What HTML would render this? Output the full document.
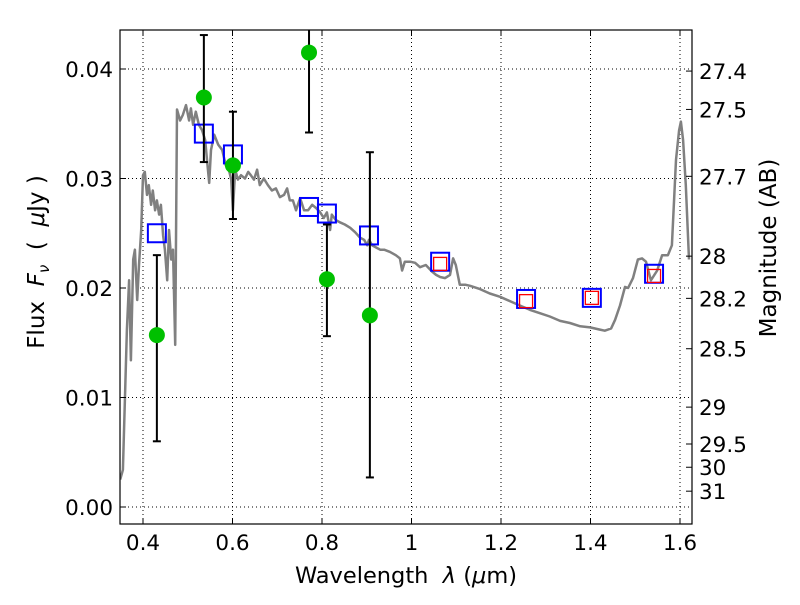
<!DOCTYPE html>
<html><head><meta charset="utf-8"><style>
body{margin:0;background:#fff;}
svg text{font-family:"DejaVu Sans","Liberation Sans",sans-serif;fill:#000;}
</style></head><body>
<svg id="chart" width="800" height="600" xmlns="http://www.w3.org/2000/svg">
<defs><clipPath id="clip"><rect x="120" y="30" width="572" height="494"/></clipPath></defs>
<g id="grid"></g>
<g id="spec" clip-path="url(#clip)"></g>
<g id="marks" clip-path="url(#clip)"></g>
<rect x="120" y="30" width="572" height="494" fill="none" stroke="#000" stroke-width="1.2"/>
<g id="axes"></g>
<text x="406" y="583" font-size="22.5" text-anchor="middle" xml:space="preserve">Wavelength  <tspan font-style="italic">λ</tspan> (<tspan font-style="italic">μ</tspan>m)</text>
<text transform="translate(44,262) rotate(-90)" font-size="23" text-anchor="middle" xml:space="preserve">Flux  <tspan font-style="italic">F</tspan><tspan font-style="italic" font-size="15" dy="5">ν</tspan><tspan dy="-5">  (  </tspan><tspan font-style="italic">μ</tspan>Jy )</text>
<text transform="translate(776,248) rotate(-90)" font-size="23" text-anchor="middle">Magnitude (AB)</text>
</svg>
<script>
const specX=[0.349,0.355,0.364,0.369,0.373,0.378,0.382,0.387,0.391,0.396,0.400,0.404,0.409,0.413,0.418,0.422,0.427,0.431,0.436,0.440,0.445,0.449,0.454,0.458,0.463,0.467,0.472,0.476,0.483,0.489,0.496,0.503,0.507,0.512,0.518,0.525,0.532,0.539,0.543,0.548,0.552,0.559,0.568,0.577,0.585,0.592,0.597,0.601,0.606,0.612,0.619,0.628,0.635,0.641,0.648,0.655,0.661,0.670,0.679,0.688,0.697,0.706,0.715,0.722,0.728,0.735,0.742,0.751,0.760,0.769,0.778,0.787,0.796,0.804,0.811,0.818,0.822,0.831,0.840,0.851,0.863,0.874,0.885,0.894,0.901,0.905,0.912,0.921,0.930,0.939,0.952,0.965,0.974,0.979,0.985,0.997,1.008,1.019,1.032,1.046,1.055,1.064,1.075,1.086,1.093,1.099,1.108,1.120,1.131,1.153,1.175,1.198,1.220,1.242,1.265,1.287,1.309,1.332,1.354,1.377,1.399,1.421,1.432,1.446,1.455,1.466,1.477,1.484,1.495,1.506,1.515,1.524,1.535,1.549,1.560,1.573,1.582,1.591,1.598,1.602,1.607,1.613,1.620];
const specY=[0.0025,0.0034,0.0162,0.0207,0.0134,0.0226,0.0235,0.0189,0.0221,0.0253,0.0303,0.0306,0.0285,0.0294,0.0276,0.0289,0.0271,0.0280,0.0267,0.0276,0.0248,0.0235,0.0207,0.0253,0.0226,0.0235,0.0148,0.0363,0.0353,0.0358,0.0367,0.0353,0.0364,0.0349,0.0361,0.0349,0.0344,0.0335,0.0317,0.0296,0.0326,0.0340,0.0331,0.0326,0.0312,0.0308,0.0299,0.0271,0.0308,0.0299,0.0303,0.0300,0.0306,0.0303,0.0299,0.0308,0.0294,0.0300,0.0294,0.0289,0.0291,0.0283,0.0285,0.0291,0.0280,0.0280,0.0271,0.0282,0.0271,0.0271,0.0276,0.0273,0.0269,0.0264,0.0269,0.0253,0.0267,0.0262,0.0260,0.0258,0.0255,0.0251,0.0246,0.0244,0.0239,0.0244,0.0239,0.0237,0.0235,0.0235,0.0233,0.0230,0.0227,0.0216,0.0224,0.0224,0.0223,0.0219,0.0221,0.0215,0.0212,0.0210,0.0209,0.0212,0.0227,0.0221,0.0203,0.0203,0.0202,0.0199,0.0195,0.0192,0.0188,0.0184,0.0180,0.0177,0.0174,0.0170,0.0168,0.0165,0.0164,0.0162,0.0161,0.0163,0.0171,0.0184,0.0201,0.0200,0.0209,0.0226,0.0227,0.0224,0.0207,0.0216,0.0230,0.0230,0.0239,0.0317,0.0344,0.0352,0.0335,0.0294,0.0226];
const obsX=[0.431,0.536,0.601,0.771,0.811,0.907];
const obsY=[0.0157,0.0374,0.0312,0.0415,0.0208,0.0175];
const obsLo=[0.0060,0.0315,0.0263,0.0342,0.0156,0.0027];
const obsHi=[0.0230,0.0431,0.0361,0.0490,0.0258,0.0324];
const modX=[0.431,0.536,0.601,0.771,0.811,0.905,1.064,1.256,1.403,1.542];
const modY=[0.0250,0.0341,0.0322,0.0274,0.0268,0.0248,0.0224,0.0190,0.0191,0.0213];
const irX=[1.064,1.256,1.403,1.542];
const irY=[0.0222,0.0188,0.0191,0.0211];
const xTicks=[0.4,0.6,0.8,1.0,1.2,1.4,1.6];
const xTickLabels=["0.4","0.6","0.8","1","1.2","1.4","1.6"];
const yTicks=[0,0.01,0.02,0.03,0.04];
const yTickLabels=["0.00","0.01","0.02","0.03","0.04"];
const magTicks=[27.4,27.5,27.7,28,28.2,28.5,29,29.5,30,31];
const magTickLabels=["27.4","27.5","27.7","28","28.2","28.5","29","29.5","30","31"];

const L=120,R=692,T=30,B=524;
const X=v=>143+(v-0.4)*447.5;
const Y=v=>507-v*10950;
const NS="http://www.w3.org/2000/svg";
function mk(tag,parent,attrs){const e=document.createElementNS(NS,tag);for(const k in attrs)e.setAttribute(k,attrs[k]);parent.appendChild(e);return e;}
const grid=document.getElementById('grid'),axes=document.getElementById('axes'),spec=document.getElementById('spec'),marks=document.getElementById('marks');
const FS=21.5;
xTicks.forEach((t,i)=>{const x=X(t);
 let g=mk('line',grid,{x1:x,x2:x,y1:T,y2:B,stroke:'#000','stroke-width':1,'stroke-dasharray':'1,3'});
 
 mk('line',axes,{x1:x,x2:x,y1:B,y2:B-6,stroke:'#000'});mk('line',axes,{x1:x,x2:x,y1:T,y2:T+6,stroke:'#000'});
 let tx=mk('text',axes,{x:x,y:B+26,'font-size':FS,'text-anchor':'middle'});tx.textContent=xTickLabels[i];
 });
yTicks.forEach((t,i)=>{const y=Y(t);
 let g=mk('line',grid,{x1:L,x2:R,y1:y,y2:y,stroke:'#000','stroke-width':1,'stroke-dasharray':'1,3'});
 
 mk('line',axes,{x1:L,x2:L+6,y1:y,y2:y,stroke:'#000'});
 let tx=mk('text',axes,{x:113,y:y+8,'font-size':FS,'text-anchor':'end'});tx.textContent=yTickLabels[i];
 });
magTicks.forEach((m,i)=>{const y=Y(Math.pow(10,(23.9-m)/2.5));
 mk('line',axes,{x1:R,x2:R-6,y1:y,y2:y,stroke:'#000'});
 let tx=mk('text',axes,{x:699,y:y+8,'font-size':FS});tx.textContent=magTickLabels[i];
 });

let pts=specX.map((v,i)=>X(v).toFixed(1)+','+Y(specY[i]).toFixed(1)).join(' ');
let pl=mk('polyline',spec,{points:pts,fill:'none',stroke:'#808080','stroke-width':2.5,'stroke-linejoin':'round'});


modX.forEach((v,i)=>{let r=mk('rect',marks,{x:X(v)-9,y:Y(modY[i])-9,width:18,height:18,fill:'none',stroke:'#0000ff','stroke-width':2});
 });
irX.forEach((v,i)=>{let r=mk('rect',marks,{x:X(v)-6.5,y:Y(irY[i])-6.5,width:13,height:13,fill:'none',stroke:'#ff0000','stroke-width':1.3});
 });
obsX.forEach((v,i)=>{const x=X(v);
 let e=mk('line',marks,{x1:x,x2:x,y1:Y(obsLo[i]),y2:Y(obsHi[i]),stroke:'#000','stroke-width':2});
 
 [obsLo[i],obsHi[i]].forEach(c=>{mk('line',marks,{x1:x-4,x2:x+4,y1:Y(c),y2:Y(c),stroke:'#000','stroke-width':2});});
 let c=mk('circle',marks,{cx:x,cy:Y(obsY[i]),r:8,fill:'#00c000'});
 });
</script>
</body></html>
